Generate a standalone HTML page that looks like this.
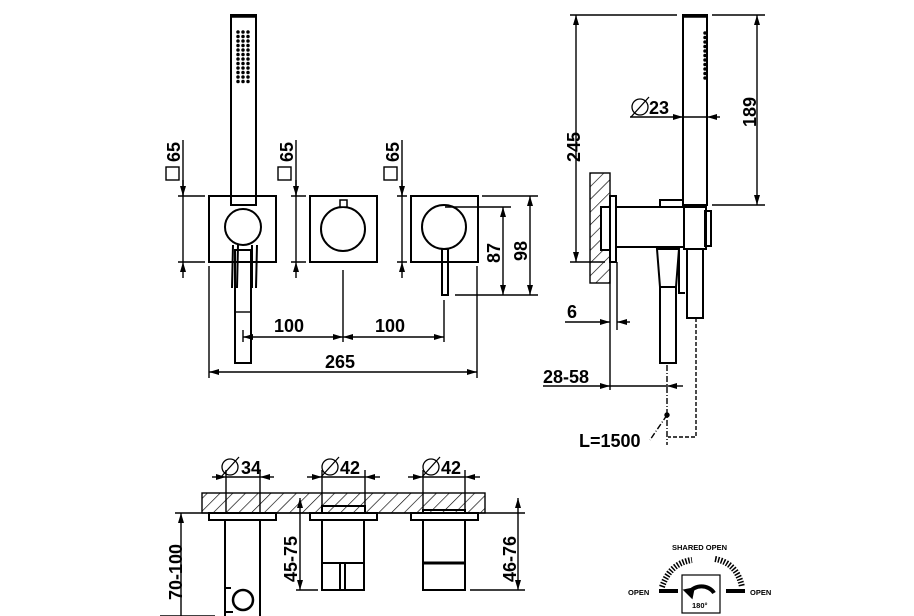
<!DOCTYPE html>
<html><head><meta charset="utf-8"><style>
html,body{margin:0;padding:0;background:#fff}
svg{display:block}
text{font-family:"Liberation Sans",sans-serif;font-weight:bold;fill:#000}
</style></head><body>
<svg width="914" height="616" viewBox="0 0 914 616" xmlns="http://www.w3.org/2000/svg">
<defs>
<marker id="a" viewBox="0 0 10 6" refX="10" refY="3" markerWidth="10" markerHeight="6" orient="auto-start-reverse" markerUnits="userSpaceOnUse"><path d="M0,0L10,3L0,6z" fill="#000"/></marker>
<pattern id="h" width="9" height="9" patternUnits="userSpaceOnUse" patternTransform="rotate(45)"><line x1="0" y1="0" x2="0" y2="9" stroke="#000" stroke-width="1.3"/></pattern>
</defs>
<g fill="none" stroke="#000" stroke-width="1.4">
<!-- FRONT VIEW -->
<rect x="231" y="15" width="25" height="190" stroke-width="2"/>
<line x1="231" y1="16" x2="256" y2="16" stroke-width="3.5"/>
<g stroke-width="3.5" stroke-linecap="round" stroke-dasharray="0,4.5">
<line x1="238" y1="32" x2="238" y2="83"/><line x1="243" y1="32" x2="243" y2="83"/><line x1="248" y1="32" x2="248" y2="83"/>
</g>
<rect x="209" y="196" width="67" height="66" stroke-width="2"/>
<rect x="310" y="196" width="67" height="66" stroke-width="2"/>
<rect x="411" y="196" width="67" height="66" stroke-width="2"/>
<circle cx="243" cy="227" r="18" stroke-width="2" fill="#fff"/>
<circle cx="343" cy="229" r="22" stroke-width="2"/>
<rect x="340" y="200" width="7" height="7" fill="#fff" stroke-width="1.5"/>
<circle cx="444" cy="227" r="22" stroke-width="2"/>
<rect x="442" y="249" width="6" height="46" stroke-width="2"/>
<rect x="235" y="250" width="16" height="113" stroke-width="2"/>
<line x1="235" y1="312" x2="251" y2="312"/>
<path d="M233,245 L232,288 M238,245 L237,288 M252,245 L252,288 M257,245 L256,288" stroke-width="2"/>
<!-- 65 dims -->
<g marker-end="url(#a)">
<line x1="183" y1="180" x2="183" y2="196"/><line x1="183" y1="278" x2="183" y2="262"/>
<line x1="296" y1="180" x2="296" y2="196"/><line x1="296" y1="278" x2="296" y2="262"/>
<line x1="402" y1="180" x2="402" y2="196"/><line x1="402" y1="278" x2="402" y2="262"/>
</g>
<line x1="183" y1="140" x2="183" y2="262"/><line x1="296" y1="140" x2="296" y2="262"/><line x1="402" y1="140" x2="402" y2="262"/>
<path d="M178,196H205M178,262H205M291,196H306M291,262H306M397,196H407M397,262H407"/>
<rect x="166" y="167" width="13" height="13"/><rect x="278" y="167" width="13" height="13"/><rect x="384" y="167" width="13" height="13"/>
<!-- 87 98 -->
<path d="M445,207H511M482,196H538M455,295H538"/>
<line x1="503" y1="207" x2="503" y2="295" marker-start="url(#a)" marker-end="url(#a)"/>
<line x1="530" y1="196" x2="530" y2="295" marker-start="url(#a)" marker-end="url(#a)"/>
<!-- 100 100 265 -->
<path d="M209,266V378M477,266V378M343,270V342M444,300V342M243,330V342"/>
<line x1="243" y1="337" x2="343" y2="337" marker-start="url(#a)" marker-end="url(#a)"/>
<line x1="343" y1="337" x2="444" y2="337" marker-start="url(#a)" marker-end="url(#a)"/>
<line x1="209" y1="372" x2="477" y2="372" marker-start="url(#a)" marker-end="url(#a)"/>

<!-- SIDE VIEW -->
<rect x="683" y="15" width="24" height="190" stroke-width="2"/>
<line x1="683" y1="16" x2="707" y2="16" stroke-width="3.5"/>
<line x1="705" y1="33" x2="705" y2="82" stroke-width="3.5" stroke-linecap="round" stroke-dasharray="0,4.5"/>
<rect x="590" y="173" width="20" height="110" fill="url(#h)"/>
<rect x="601" y="207" width="10" height="43" fill="#fff" stroke-width="2"/>
<rect x="610" y="196" width="6" height="66" fill="#fff" stroke-width="2"/>
<path d="M616,207H685M616,247H685" stroke-width="2"/>
<rect x="660" y="200" width="23" height="7" stroke-width="2"/>
<rect x="684" y="207" width="22" height="42" stroke-width="2"/>
<rect x="705" y="211" width="6" height="35" stroke-width="2"/>
<path d="M657,249H679L676,287H660Z" stroke-width="2"/>
<rect x="660" y="287" width="16" height="76" stroke-width="2"/>
<path d="M679,250V293H685" stroke-width="2"/>
<rect x="687" y="249" width="16" height="69" stroke-width="2"/>
<line x1="667" y1="365" x2="667" y2="445" stroke-dasharray="6,2,1,2"/>
<path d="M696,318V437H668" stroke-dasharray="4,2"/>
<path d="M667,415L650,440" stroke-dasharray="6,2,1,2"/>
<circle cx="667" cy="415" r="2" fill="#000"/>
<!-- dims side -->
<path d="M570,15H677M712,15H765M712,205H765M570,262H605"/>
<line x1="576" y1="15" x2="576" y2="262" marker-start="url(#a)" marker-end="url(#a)"/>
<line x1="757" y1="15" x2="757" y2="205" marker-start="url(#a)" marker-end="url(#a)"/>
<line x1="630" y1="117" x2="683" y2="117" marker-end="url(#a)"/>
<line x1="720" y1="117" x2="707" y2="117" marker-end="url(#a)"/>
<line x1="683" y1="117" x2="707" y2="117"/>
<path d="M610,262V390M617,262V330"/>
<line x1="565" y1="322" x2="610" y2="322" marker-end="url(#a)"/>
<line x1="630" y1="322" x2="617" y2="322" marker-end="url(#a)"/>
<line x1="543" y1="386" x2="610" y2="386" marker-end="url(#a)"/>
<line x1="683" y1="386" x2="667" y2="386" marker-end="url(#a)"/>
<line x1="610" y1="386" x2="667" y2="386"/>

<!-- BOTTOM -->
<rect x="202" y="493" width="283" height="20" fill="url(#h)"/>
<line x1="175" y1="513" x2="525" y2="513"/>
<rect x="209" y="513" width="67" height="7" fill="#fff" stroke-width="2"/>
<rect x="310" y="513" width="67" height="7" fill="#fff" stroke-width="2"/>
<rect x="411" y="513" width="67" height="7" fill="#fff" stroke-width="2"/>
<path d="M225,520V616M260,520V616" stroke-width="2"/>
<circle cx="243" cy="600" r="10" stroke-width="2.5"/>
<path d="M225,588H231M225,612H233" stroke-width="2"/>
<rect x="322" y="506" width="43" height="7" stroke-width="2"/>
<rect x="322" y="520" width="42" height="70" stroke-width="2"/>
<path d="M322,563H364M340,563V590M345,563V590" stroke-width="2"/>
<rect x="423" y="510" width="42" height="3" stroke-width="2"/>
<rect x="423" y="520" width="42" height="70" stroke-width="2"/>
<line x1="423" y1="563" x2="465" y2="563" stroke-width="3"/>
<path d="M226,470V513M260,470V513M322,470V506M365,470V506M423,470V510M465,470V510"/>
<line x1="212" y1="477" x2="226" y2="477" marker-end="url(#a)"/><line x1="274" y1="477" x2="260" y2="477" marker-end="url(#a)"/>
<line x1="226" y1="477" x2="260" y2="477"/>
<line x1="307" y1="477" x2="322" y2="477" marker-end="url(#a)"/><line x1="380" y1="477" x2="365" y2="477" marker-end="url(#a)"/>
<line x1="322" y1="477" x2="365" y2="477"/>
<line x1="408" y1="477" x2="423" y2="477" marker-end="url(#a)"/><line x1="480" y1="477" x2="465" y2="477" marker-end="url(#a)"/>
<line x1="423" y1="477" x2="465" y2="477"/>
<line x1="181" y1="513" x2="181" y2="616" marker-start="url(#a)"/>
<line x1="160" y1="616" x2="215" y2="616"/>
<line x1="300" y1="498" x2="300" y2="590" marker-start="url(#a)" marker-end="url(#a)"/>
<line x1="296" y1="590" x2="318" y2="590"/>
<line x1="518" y1="498" x2="518" y2="590" marker-start="url(#a)" marker-end="url(#a)"/>
<line x1="470" y1="590" x2="525" y2="590"/>

<!-- ROTATION SYMBOL -->
<rect x="682" y="575" width="38" height="38" stroke-width="1.2"/>
<path d="M689,593 A14,12 0 0 1 714,593" stroke-width="4"/>
<path d="M684,590L692,598L694,588Z" fill="#000"/>
<path d="M662,587 Q670,563 692,560" stroke-width="6" stroke-dasharray="1.5,1.5"/>
<path d="M715,559 Q737,563 742,587" stroke-width="6" stroke-dasharray="1.5,1.5"/>
<path d="M659,591H678M726,591H745" stroke-width="4"/>
</g>
<g font-size="18">
<text transform="translate(180,162) rotate(-90)">65</text>
<text transform="translate(293,162) rotate(-90)">65</text>
<text transform="translate(399,162) rotate(-90)">65</text>
<text transform="translate(500,263) rotate(-90)">87</text>
<text transform="translate(527,261) rotate(-90)">98</text>
<text x="274" y="332">100</text>
<text x="375" y="332">100</text>
<text x="325" y="368">265</text>
<text transform="translate(580,162) rotate(-90)">245</text>
<text transform="translate(756,127) rotate(-90)">189</text>
<text x="649" y="114">23</text>
<text x="567" y="318">6</text>
<text x="543" y="383">28-58</text>
<text x="579" y="447">L=1500</text>
<text x="241" y="474">34</text>
<text x="340" y="474">42</text>
<text x="441" y="474">42</text>
<text transform="translate(182,600) rotate(-90)">70-100</text>
<text transform="translate(297,582) rotate(-90)">45-75</text>
<text transform="translate(516,582) rotate(-90)">46-76</text>
</g>
<g fill="none" stroke="#000" stroke-width="1.3">
<circle cx="640" cy="107" r="8"/><line x1="631" y1="117" x2="649" y2="97"/>
<circle cx="230" cy="467" r="8"/><line x1="221" y1="477" x2="239" y2="457"/>
<circle cx="330" cy="467" r="8"/><line x1="321" y1="477" x2="339" y2="457"/>
<circle cx="431" cy="467" r="8"/><line x1="422" y1="477" x2="440" y2="457"/>
</g>
<g font-size="7.5">
<text x="672" y="550">SHARED OPEN</text>
<text x="628" y="595">OPEN</text>
<text x="750" y="595">OPEN</text>
<text x="692" y="608" font-weight="normal">180°</text>
</g>
</svg>
</body></html>
